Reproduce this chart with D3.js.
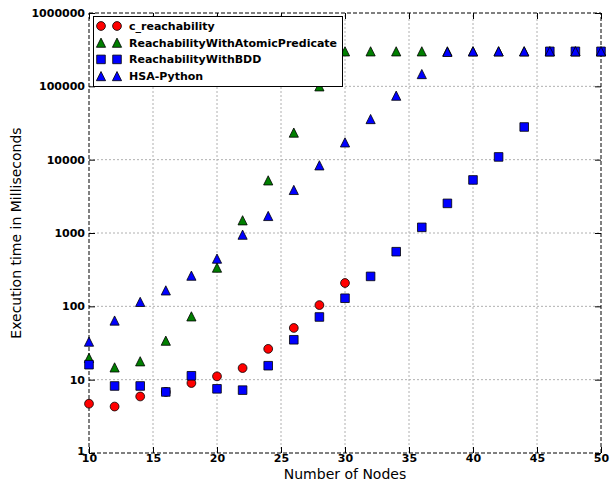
<!DOCTYPE html>
<html>
<head>
<meta charset="utf-8">
<script src="https://cdn.jsdelivr.net/npm/d3@7"></script>
<style>
  html, body { margin: 0; padding: 0; background: #fff; }
  svg { display: block; font-family: "DejaVu Sans", sans-serif; }
</style>
</head>
<body>
<svg id="chart" width="611" height="481"></svg>
<script>
// Execution time vs number of nodes, log y.

const nodes = [10, 12, 14, 16, 18, 20, 22, 24, 26, 28, 30, 32, 34, 36, 38, 40, 42, 44, 46, 48, 50];

const cReach = [4.7, 4.3, 5.9, 6.8, 9.0, 11.1, 14.4, 26.3, 50.7, 104, 208];
const atomicPred = [19.8, 14.7, 17.8, 34, 73, 337, 1490, 5220, 23400, 100000,
  300000, 300000, 300000, 300000, 300000, 300000, 300000, 300000, 300000, 300000, 300000];
const bdd = [16, 8.2, 8.2, 6.8, 11.3, 7.5, 7.2, 15.5, 35, 71.6, 129, 256, 556, 1194, 2535,
  5290, 10900, 27900, 300000, 300000, 300000];
const hsa = [33, 64, 115, 165, 262, 447, 949, 1707, 3865, 8370, 17200, 35800, 74600, 147000,
  295000, 300000, 300000, 300000, 300000, 300000, 300000];

const xTicks = [10, 15, 20, 25, 30, 35, 40, 45, 50];
const yTicks = [1, 10, 100, 1000, 10000, 100000, 1000000];

const series = [
  { name: "c_reachability", values: cReach, shape: "circle", color: "#ff0000" },
  { name: "ReachabilityWithAtomicPredicate", values: atomicPred, shape: "triangle", color: "#007f00" },
  { name: "ReachabilityWithBDD", values: bdd, shape: "square", color: "#0000ff" },
  { name: "HSA-Python", values: hsa, shape: "triangle", color: "#0000ff" },
];

const margin = { top: 13, right: 10, bottom: 28, left: 89 };
const width = 611, height = 481;

const svg = d3.select("#chart");

const x = d3.scaleLinear().domain([10, 50]).range([margin.left, width - margin.right]);
const y = d3.scaleLog().domain([1, 1000000]).range([height - margin.bottom, margin.top]);

// marker shapes (pixel offsets around the data point)
function markerPath(shape) {
  if (shape === "circle") return d3.symbol(d3.symbolCircle, Math.PI * 4.4 * 4.4)();
  if (shape === "square") return d3.symbol(d3.symbolSquare, 8.6 * 8.6)();
  const h = 4.6;
  return `M0,${-h}L${h},${h}L${-h},${h}Z`;
}

// grid
const grid = svg.append("g");
grid.selectAll("line.gx")
  .data(xTicks.slice(1, -1))
  .join("line")
  .attr("x1", (d) => x(d)).attr("x2", (d) => x(d))
  .attr("y1", y(1)).attr("y2", y(1000000))
  .attr("stroke", "#b0b0b0").attr("stroke-dasharray", "2,2");
grid.selectAll("line.gy")
  .data(yTicks.slice(1, -1))
  .join("line")
  .attr("y1", (d) => y(d)).attr("y2", (d) => y(d))
  .attr("x1", x(10)).attr("x2", x(50))
  .attr("stroke", "#b0b0b0").attr("stroke-dasharray", "2,2");

// axes (ticks inward, bold labels)
const xAxis = svg.append("g")
  .attr("transform", `translate(0,${y(1)})`)
  .call(d3.axisBottom(x).tickValues(xTicks).tickSizeInner(-6).tickSizeOuter(0).tickPadding(3));
const xAxisTop = svg.append("g")
  .attr("transform", `translate(0,${y(1000000)})`)
  .call(d3.axisTop(x).tickValues(xTicks).tickSizeInner(-6).tickSizeOuter(0).tickFormat(""));
const yAxis = svg.append("g")
  .attr("transform", `translate(${x(10)},0)`)
  .call(d3.axisLeft(y).tickValues(yTicks).tickFormat(d3.format("d")).tickSizeInner(-6).tickSizeOuter(0).tickPadding(4));
const yAxisRight = svg.append("g")
  .attr("transform", `translate(${x(50)},0)`)
  .call(d3.axisRight(y).tickValues(yTicks).tickFormat("").tickSizeInner(-6).tickSizeOuter(0));

for (const g of [xAxis, xAxisTop, yAxis, yAxisRight]) {
  g.select(".domain").remove();
  g.selectAll(".tick line").attr("stroke", "#000");
  g.selectAll("text")
    .attr("font-family", "DejaVu Sans")
    .attr("font-weight", "bold")
    .attr("font-size", 11)
    .attr("fill", "#000");
}
yAxis.selectAll(".tick").filter((d) => d === 1).select("text").attr("dy", "0.1em");
xAxis.selectAll("text").attr("dy", "0.55em");

// frame
svg.append("rect")
  .attr("x", x(10)).attr("y", y(1000000))
  .attr("width", x(50) - x(10)).attr("height", y(1) - y(1000000))
  .attr("fill", "none").attr("stroke", "#000").attr("stroke-dasharray", "4,2");

// points
for (const s of series) {
  svg.append("g")
    .selectAll("path")
    .data(s.values.map((v, i) => ({ n: nodes[i], v })))
    .join("path")
    .attr("transform", (d) => `translate(${x(d.n)},${y(d.v)})`)
    .attr("d", markerPath(s.shape))
    .attr("fill", s.color)
    .attr("stroke", "#000")
    .attr("stroke-width", 0.8);
}

// axis titles
svg.append("text")
  .attr("x", (x(10) + x(50)) / 2).attr("y", 479)
  .attr("text-anchor", "middle")
  .attr("font-size", 14)
  .text("Number of Nodes");
svg.append("text")
  .attr("transform", `translate(21,${(y(1) + y(1000000)) / 2}) rotate(-90)`)
  .attr("text-anchor", "middle")
  .attr("font-size", 14)
  .text("Execution time in Milliseconds");

// legend
const legend = svg.append("g");
legend.append("rect")
  .attr("x", 93.5).attr("y", 16.5).attr("width", 249).attr("height", 70)
  .attr("fill", "#fff").attr("stroke", "#000");
series.forEach((s, i) => {
  const ly = 26 + i * 16.7;
  for (const lx of [101, 117]) {
    legend.append("path")
      .attr("transform", `translate(${lx},${ly})`)
      .attr("d", markerPath(s.shape))
      .attr("fill", s.color)
      .attr("stroke", "#000")
      .attr("stroke-width", 0.8);
  }
  legend.append("text")
    .attr("x", 129).attr("y", ly)
    .attr("dy", "0.35em")
    .attr("font-size", 11)
    .attr("font-weight", "bold")
    .text(s.name);
});
</script>
</body>
</html>
